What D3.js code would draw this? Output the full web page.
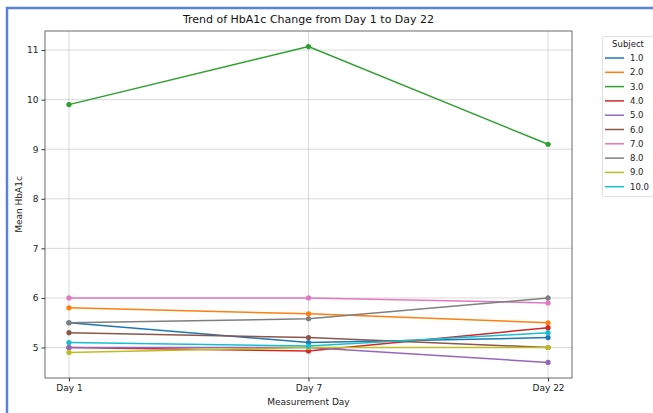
<!DOCTYPE html>
<html><head><meta charset="utf-8">
<script src="https://cdn.jsdelivr.net/npm/d3@7"></script>
<style>body{margin:0;background:#fff;} svg{display:block;font-family:"DejaVu Sans",sans-serif;}</style>
</head><body>
<svg id="c" width="653" height="413"></svg>
<script>
const days = ["Day 1", "Day 7", "Day 22"];
const subjects = ["1.0","2.0","3.0","4.0","5.0","6.0","7.0","8.0","9.0","10.0"];
const s1 = [5.5, 5.1, 5.2];
const s2 = [5.8, 5.68, 5.5];
const s3 = [9.9, 11.07, 9.1];
const s4 = [5.0, 4.93, 5.4];
const s5 = [5.0, 5.0, 4.7];
const s6 = [5.3, 5.2, 5.0];
const s7 = [6.0, 6.0, 5.9];
const s8 = [5.5, 5.58, 6.0];
const s9 = [4.9, 5.0, 5.0];
const s10 = [5.1, 5.03, 5.3];
const series = [s1,s2,s3,s4,s5,s6,s7,s8,s9,s10];
const yTicks = [5,6,7,8,9,10,11];
const colors = ["#1f77b4","#ff7f0e","#2ca02c","#d62728","#9467bd","#8c564b","#e377c2","#7f7f7f","#bcbd22","#17becf"];

const svg = d3.select("#c");
// screenshot frame
svg.append("path").attr("d","M7,413 L7,8 L653,8").attr("fill","none").attr("stroke","#5a84d2").attr("stroke-width",2.5);

const L=45, R=572, T=31, B=378;
// categorical positions 0..2 with domain -0.1..2.1
const xl = d3.scaleLinear().domain([-0.1,2.1]).range([L,R]);
const xp = d => xl(days.indexOf(d));
const y = d3.scaleLinear().domain([4.385,11.385]).range([B,T]);

const g = svg.append("g");
// grid
g.selectAll(".gy").data(yTicks).join("line").attr("x1",L).attr("x2",R).attr("y1",d=>y(d)).attr("y2",d=>y(d)).attr("stroke","#b0b0b0").attr("stroke-opacity",0.6).attr("stroke-width",0.8);
g.selectAll(".gx").data(days).join("line").attr("x1",d=>xp(d)).attr("x2",d=>xp(d)).attr("y1",T).attr("y2",B).attr("stroke","#b0b0b0").attr("stroke-opacity",0.6).attr("stroke-width",0.8);

// axes
const ax = svg.append("g").attr("transform",`translate(0,${B})`).call(d3.axisBottom(xl).tickValues([0,1,2]).tickFormat(i=>days[i]).tickSize(3.5).tickPadding(3));
const ay = svg.append("g").attr("transform",`translate(${L},0)`).call(d3.axisLeft(y).tickValues(yTicks).tickFormat(d3.format("d")).tickSize(3.5).tickPadding(3));
[ax,ay].forEach(a=>{a.select(".domain").remove();a.selectAll("text").attr("font-size",9).attr("fill","#222").attr("font-family","DejaVu Sans");a.selectAll("line").attr("stroke","#333");});

// lines
const line = d3.line().x((d,i)=>xp(days[i])).y(d=>y(d));
series.forEach((s,k)=>{
  svg.append("path").datum(s).attr("d",line).attr("fill","none").attr("stroke",colors[k]).attr("stroke-width",1.5);
  svg.selectAll(null).data(s).join("circle").attr("cx",(d,i)=>xp(days[i])).attr("cy",d=>y(d)).attr("r",2.6).attr("fill",colors[k]);
});

// frame
svg.append("rect").attr("x",L).attr("y",T).attr("width",R-L).attr("height",B-T).attr("fill","none").attr("stroke","#444").attr("stroke-width",0.8);

// texts
svg.append("text").attr("x",(L+R)/2).attr("y",23).attr("text-anchor","middle").attr("font-size",11).attr("fill","#111").text("Trend of HbA1c Change from Day 1 to Day 22");
svg.append("text").attr("x",(L+R)/2).attr("y",405).attr("text-anchor","middle").attr("font-size",9).attr("fill","#222").text("Measurement Day");
svg.append("text").attr("transform",`translate(22,${(T+B)/2}) rotate(-90)`).attr("text-anchor","middle").attr("font-size",9).attr("fill","#222").text("Mean HbA1c");

// legend
const lg = svg.append("g");
lg.append("rect").attr("x",602.5).attr("y",36.5).attr("width",70).attr("height",160).attr("rx",2).attr("fill","#fff").attr("stroke","#d8d8d8").attr("stroke-width",0.8);
lg.append("text").attr("x",628).attr("y",47).attr("text-anchor","middle").attr("font-size",8.5).attr("fill","#222").text("Subject");
subjects.forEach((s,k)=>{
  const yy = 58 + k*14.3;
  lg.append("line").attr("x1",605).attr("x2",624).attr("y1",yy).attr("y2",yy).attr("stroke",colors[k]).attr("stroke-width",1.5);
  lg.append("text").attr("x",630).attr("y",yy+3).attr("font-size",8.5).attr("fill","#222").text(s);
});
</script>
</body></html>
